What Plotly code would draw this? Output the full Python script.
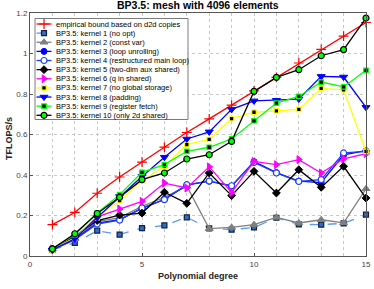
import plotly.graph_objects as go

# ---------------- data ----------------
degree = list(range(1, 16))
bound = [0.155, 0.215, 0.31, 0.39, 0.464, 0.538, 0.61, 0.677, 0.745, 0.815, 0.882, 0.953, 1.02, 1.086, 1.153]
k1 = [0.031, 0.065, 0.125, 0.106, 0.138, 0.151, 0.191, 0.136, 0.13, 0.141, 0.189, 0.156, 0.155, 0.161, 0.204]
k2 = [0.035, 0.085, 0.17, 0.19, 0.245, 0.29, 0.345, 0.135, 0.141, 0.155, 0.191, 0.163, 0.179, 0.164, 0.332]
k3 = [0.033, 0.082, 0.162, 0.18, 0.235, 0.28, 0.35, 0.37, 0.345, 0.466, 0.412, 0.37, 0.362, 0.5, 0.52]
k4 = [0.03, 0.08, 0.158, 0.177, 0.237, 0.278, 0.352, 0.37, 0.347, 0.462, 0.41, 0.368, 0.377, 0.509, 0.517]
k5 = [0.035, 0.097, 0.175, 0.202, 0.212, 0.315, 0.26, 0.41, 0.298, 0.418, 0.311, 0.426, 0.339, 0.443, 0.286]
k6 = [0.035, 0.09, 0.193, 0.232, 0.27, 0.36, 0.336, 0.44, 0.314, 0.467, 0.451, 0.476, 0.41, 0.48, 0.505]
k7 = [0.03, 0.09, 0.19, 0.273, 0.372, 0.443, 0.55, 0.576, 0.678, 0.71, 0.717, 0.724, 0.828, 0.821, 0.517]
k8 = [0.03, 0.085, 0.19, 0.294, 0.393, 0.488, 0.578, 0.613, 0.724, 0.766, 0.769, 0.775, 0.887, 0.884, 0.734]
k9 = [0.035, 0.105, 0.212, 0.303, 0.413, 0.451, 0.517, 0.537, 0.578, 0.668, 0.755, 0.788, 0.859, 0.835, 0.917]
k10 = [0.035, 0.11, 0.21, 0.29, 0.377, 0.41, 0.479, 0.5, 0.566, 0.813, 0.882, 0.92, 0.989, 1.019, 1.175]

names = [
    "empirical bound based on d2d copies",
    "BP3.5: kernel 1 (no opt)",
    "BP3.5: kernel 2 (const var)",
    "BP3.5: kernel 3 (loop unrolling)",
    "BP3.5: kernel 4 (restructured main loop)",
    "BP3.5: kernel 5 (two-dim aux shared)",
    "BP3.5: kernel 6 (q in shared)",
    "BP3.5: kernel 7 (no global storage)",
    "BP3.5: kernel 8 (padding)",
    "BP3.5: kernel 9 (register fetch)",
    "BP3.5: kernel 10 (only 2d shared)",
]
series = [bound, k1, k2, k3, k4, k5, k6, k7, k8, k9, k10]
x_ticks = [0, 5, 10, 15]
y_ticks = [0, 0.2, 0.4, 0.6, 0.8, 1.0, 1.2]

# ---------------- styles ----------------
styles = [
    dict(line=dict(color="#ff0000", width=1.3),
         marker=dict(symbol="cross-thin", size=7, line=dict(color="#ff0000", width=1.2))),
    dict(line=dict(color="#5a9cf5", width=1.3, dash="dash"),
         marker=dict(symbol="square", size=5, color="#2f6fc0", line=dict(color="#10204a", width=1.2))),
    dict(line=dict(color="#808080", width=1.3),
         marker=dict(symbol="triangle-up", size=7, color="#808080", line=dict(color="#808080", width=1))),
    dict(line=dict(color="#0000ff", width=1.3),
         marker=dict(symbol="circle", size=6, color="#0000ff", line=dict(color="#0000ff", width=1))),
    dict(line=dict(color="#1a40ff", width=1.3),
         marker=dict(symbol="circle", size=6, color="#ffffff", line=dict(color="#1a40ff", width=1.2))),
    dict(line=dict(color="#000000", width=1.3),
         marker=dict(symbol="diamond", size=6, color="#000000", line=dict(color="#000000", width=1))),
    dict(line=dict(color="#ff00ff", width=1.3),
         marker=dict(symbol="triangle-right", size=7, color="#ff00ff", line=dict(color="#ff00ff", width=1))),
    dict(line=dict(color="#ffff00", width=1.3),
         marker=dict(symbol="square", size=4.5, color="#000000", line=dict(color="#ffff00", width=1.2))),
    dict(line=dict(color="#0000ff", width=1.3),
         marker=dict(symbol="triangle-down", size=7, color="#0000ff", line=dict(color="#0000ff", width=1))),
    dict(line=dict(color="#00ff00", width=1.3),
         marker=dict(symbol="square", size=4.5, color="#000000", line=dict(color="#00ff00", width=1.2))),
    dict(line=dict(color="#000000", width=1.3),
         marker=dict(symbol="circle", size=6, color="#00ff00", line=dict(color="#000000", width=1.2))),
]

FONT = "Liberation Sans, Arial, Helvetica, sans-serif"
W, H = 374, 289
ML, MR, MT, MB = 30, 8, 13, 33
PW, PH = W - ML - MR, H - MT - MB

fig = go.Figure()
for name, ys, st in zip(names, series, styles):
    fig.add_trace(go.Scatter(x=degree, y=ys, name=name, mode="lines+markers",
                             line=st["line"], marker=st["marker"],
                             showlegend=False, cliponaxis=False))

# ---------------- manual legend (overlay axes in plot-area fractions) ----------------
def fx(px):
    return (px - ML) / PW

def fy(py):
    return (MT + PH - py) / PH

bx0, bx1, by0, by1 = fx(35), fx(188), fy(119.5), fy(18.5)
fig.add_trace(go.Scatter(x=[bx0, bx1, bx1, bx0, bx0], y=[by0, by0, by1, by1, by0],
                         mode="lines", fill="toself", fillcolor="#ffffff",
                         line=dict(color="#7a7a7a", width=1), xaxis="x2", yaxis="y2",
                         showlegend=False, hoverinfo="skip"))
row_h = 9.13
annotations = []
for i, (name, st) in enumerate(zip(names, styles)):
    ry = fy(24 + row_h * i)
    fig.add_trace(go.Scatter(x=[fx(36.5), fx(51.5)], y=[ry, ry], mode="lines",
                             line=st["line"], xaxis="x2", yaxis="y2",
                             showlegend=False, hoverinfo="skip"))
    fig.add_trace(go.Scatter(x=[fx(44)], y=[ry], mode="markers",
                             marker=st["marker"], xaxis="x2", yaxis="y2",
                             showlegend=False, hoverinfo="skip", cliponaxis=False))
    annotations.append(dict(x=fx(53.5), y=ry, xref="x2", yref="y2", text=name,
                            showarrow=False, xanchor="left", yanchor="middle",
                            font=dict(family=FONT, size=7.5, color="#000000")))

# axis titles and chart title as annotations (paper coords)
annotations.append(dict(x=0.5, y=fy(275.5), xref="paper", yref="paper", text="<b>Polynomial degree</b>",
                        showarrow=False, xanchor="center", yanchor="middle",
                        font=dict(family=FONT, size=9, color="#262626")))
annotations.append(dict(x=fx(9), y=fy(139), xref="paper", yref="paper", text="<b>TFLOPS/s</b>",
                        showarrow=False, xanchor="center", yanchor="middle", textangle=-90,
                        font=dict(family=FONT, size=9, color="#262626")))
annotations.append(dict(x=0.5, y=fy(5), xref="paper", yref="paper",
                        text="<b>BP3.5: mesh with 4096 elements</b>",
                        showarrow=False, xanchor="center", yanchor="middle",
                        font=dict(family=FONT, size=10.5, color="#000000")))

fig.update_layout(
    width=W, height=H,
    margin=dict(l=ML, r=MR, t=MT, b=MB, pad=0, autoexpand=False),
    paper_bgcolor="#ffffff", plot_bgcolor="#ffffff",
    font=dict(family=FONT, color="#262626"),
    showlegend=False,
    annotations=annotations,
    xaxis=dict(range=[0, 15], tickvals=x_ticks, ticktext=[str(v) for v in x_ticks],
               automargin=False,
               showgrid=True, gridcolor="#c8c8c8", griddash="dot", gridwidth=1,
               minor=dict(dtick=1, showgrid=True, gridcolor="#c8c8c8", griddash="dot", gridwidth=1,
                          ticks=""),
               showline=True, linecolor="#555555", linewidth=1, mirror=True,
               ticks="inside", ticklen=3, tickcolor="#555555",
               tickfont=dict(family=FONT, size=8, color="#444444"),
               zeroline=False),
    yaxis=dict(range=[0, 1.2], tickvals=y_ticks, ticktext=["0", "0.2", "0.4", "0.6", "0.8", "1", "1.2"],
               automargin=False,
               showgrid=True, gridcolor="#c8c8c8", griddash="dot", gridwidth=1,
               showline=True, linecolor="#555555", linewidth=1, mirror=True,
               ticks="inside", ticklen=3, tickcolor="#555555",
               tickfont=dict(family=FONT, size=8, color="#444444"),
               zeroline=False),
    xaxis2=dict(range=[0, 1], overlaying="x", visible=False, fixedrange=True, automargin=False),
    yaxis2=dict(range=[0, 1], overlaying="y", visible=False, fixedrange=True, automargin=False),
)

fig.write_html("out.html", config={"displayModeBar": False},
               post_script="document.body.style.margin='0';document.body.style.padding='0';")
